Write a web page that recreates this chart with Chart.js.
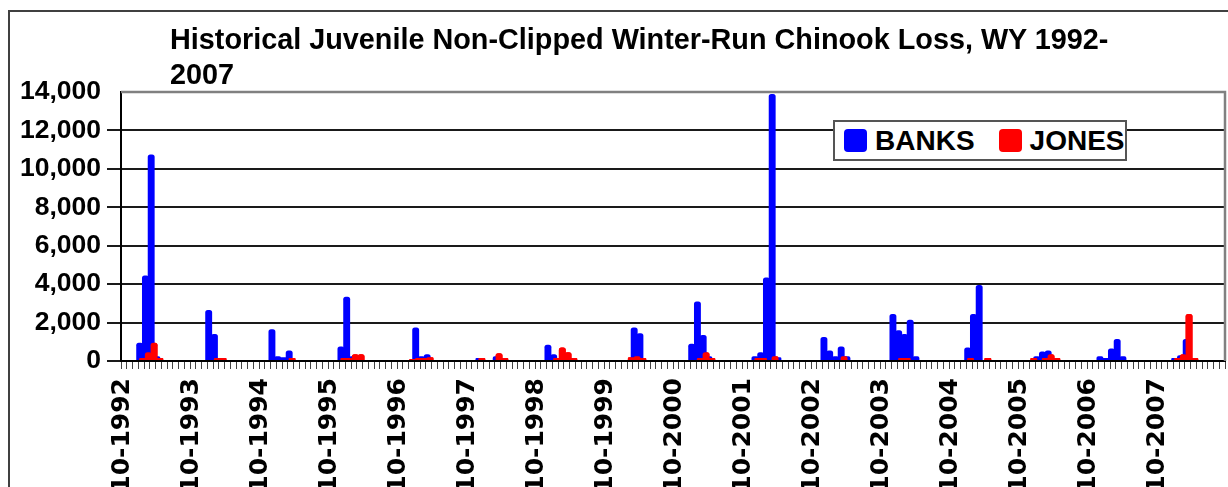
<!DOCTYPE html>
<html>
<head>
<meta charset="utf-8">
<script src="https://cdn.jsdelivr.net/npm/chart.js@4.4.1/dist/chart.umd.min.js"></script>
<style>
html,body{margin:0;padding:0;background:#fff;overflow:hidden;width:1228px;height:487px;}
#wrap{position:relative;width:1228px;height:487px;overflow:hidden;}
#frame{position:absolute;left:8px;top:10px;width:1300px;height:600px;border:2px solid #404040;box-sizing:border-box;}
#c{position:absolute;left:0;top:0;}
#title{position:absolute;left:170px;top:22px;font:bold 28.8px "Liberation Sans",Arial,sans-serif;line-height:35px;color:#000;white-space:nowrap;}
#legend{position:absolute;left:833px;top:120px;width:294px;height:41px;border:2px solid #555;background:#fff;box-sizing:border-box;display:flex;align-items:center;padding-left:9px;font:bold 28px "Liberation Sans",Arial,sans-serif;color:#000;}
#legend .item{display:flex;align-items:center;margin-right:24px;}
#legend .sw{width:23px;height:23px;border-radius:4px;margin-right:8px;}
</style>
</head>
<body>
<div id="wrap">
  <div id="frame"></div>
  <canvas id="c" width="1228" height="487"></canvas>
  <div id="title">Historical Juvenile Non-Clipped Winter-Run Chinook Loss, WY 1992-<br>2007</div>
  <div id="legend"></div>
</div>
<script>
// Tick labels shown on the category axis (one per water year)
const tickLabels = ['10-1992','10-1993','10-1994','10-1995','10-1996','10-1997','10-1998','10-1999',
                    '10-2000','10-2001','10-2002','10-2003','10-2004','10-2005','10-2006','10-2007'];

// Monthly categories, Oct 1992 .. Sep 2008
const months = [];
for (let y = 1992; y < 2008; y++) {
  for (let k = 0; k < 12; k++) {
    const m = (9 + k) % 12 + 1;
    months.push(m + '-' + (m >= 10 ? y : y + 1));
  }
}

// BANKS monthly loss (Oct..Sep per row)
const banks = [
  0,0,0,950,4450,10750,250,0,0,0,0,0,      // WY1993
  0,0,0,2650,1400,0,0,0,0,0,0,0,           // WY1994
  0,0,1650,250,200,550,0,0,0,0,0,0,        // WY1995
  0,0,750,3350,250,0,0,0,0,0,0,0,          // WY1996
  0,0,0,1750,250,350,0,0,0,0,0,0,          // WY1997
  0,0,150,0,0,250,0,0,0,0,0,0,             // WY1998
  0,0,850,350,0,0,0,0,0,0,0,0,             // WY1999
  0,0,0,0,0,1750,1450,0,0,0,0,0,           // WY2000
  0,0,0,900,3100,1350,250,0,0,0,0,0,       // WY2001
  0,0,250,450,4350,13900,200,0,0,0,0,0,    // WY2002
  0,0,1250,550,250,750,250,0,0,0,0,0,      // WY2003
  0,0,2450,1600,1400,2150,250,0,0,0,0,0,   // WY2004
  0,0,0,700,2450,3950,0,0,0,0,0,0,         // WY2005
  0,0,0,250,500,550,150,0,0,0,0,0,         // WY2006
  0,0,250,150,650,1150,250,0,0,0,0,0,      // WY2007
  0,0,0,150,300,1150,0,0,0,0,0,0           // WY2008
];

// JONES monthly loss (Oct..Sep per row)
const jones = [
  0,0,0,150,450,950,150,0,0,0,0,0,
  0,0,0,0,150,150,0,0,0,0,0,0,
  0,0,0,0,0,150,0,0,0,0,0,0,
  0,0,150,150,350,350,0,0,0,0,0,0,
  0,0,100,150,150,200,0,0,0,0,0,0,
  0,0,150,0,0,400,150,0,0,0,0,0,
  0,0,0,150,700,450,150,0,0,0,0,0,
  0,0,0,0,200,250,150,0,0,0,0,0,
  0,0,0,0,150,450,150,0,0,0,0,0,
  0,0,150,150,0,250,0,0,0,0,0,0,
  0,0,0,0,0,250,0,0,0,0,0,0,
  0,0,0,150,150,0,0,0,0,0,0,0,
  0,0,0,150,0,0,150,0,0,0,0,0,
  0,0,150,0,150,350,150,0,0,0,0,0,
  0,0,0,0,0,0,0,0,0,0,0,0,
  0,0,0,150,350,2450,150,0,0,0,0,0
];

const seriesNames = ['BANKS', 'JONES'];
const seriesColors = ['#0000FF', '#FF0000'];

const FONT = '"Liberation Sans", Arial, sans-serif';
Chart.defaults.font.family = FONT;
Chart.defaults.color = '#000';

// Draw JONES again so it sits above BANKS, as in the original
const redOnTop = {
  id: 'redOnTop',
  afterDatasetsDraw(chart) {
    const meta = chart.getDatasetMeta(1);
    if (!meta.hidden) { chart.ctx.save(); meta.controller.draw(); chart.ctx.restore(); }
  }
};
const plotFrame = {
  id: 'plotFrame',
  beforeDatasetsDraw(chart) {
    const {ctx, chartArea: a} = chart;
    ctx.save();
    ctx.strokeStyle = '#808080';
    ctx.lineWidth = 2.5;
    ctx.beginPath();
    ctx.moveTo(a.left, a.top);
    ctx.lineTo(a.right, a.top);
    ctx.lineTo(a.right, a.bottom);
    ctx.stroke();
    ctx.restore();
  }
};

const chart = new Chart(document.getElementById('c'), {
  type: 'bar',
  data: {
    labels: months,
    datasets: [
      { label: seriesNames[0], data: banks, backgroundColor: seriesColors[0], borderWidth: 0, borderRadius: 2.5 },
      { label: seriesNames[1], data: jones, backgroundColor: seriesColors[1], borderWidth: 0, borderRadius: 2.5 }
    ]
  },
  options: {
    responsive: false,
    animation: false,
    devicePixelRatio: 1,
    layout: { padding: { top: 92, left: 0, right: 3, bottom: 0 } },
    datasets: { bar: { barPercentage: 2.4, categoryPercentage: 1 } },
    plugins: { legend: { display: false }, title: { display: false }, tooltip: { enabled: false } },
    scales: {
      x: {
        afterFit(s) { s.height = 126; s.paddingLeft = 0; s.paddingRight = 0; },
        grid: { offset: true, drawOnChartArea: false, drawTicks: true, tickLength: 8, color: '#444', lineWidth: 1 },
        border: { color: '#000', width: 2 },
        ticks: {
          autoSkip: false, minRotation: 90, maxRotation: 90, padding: 9, labelOffset: -1,
          font: { family: '"DejaVu Sans", sans-serif', size: 25, weight: 'bold' },
          callback(v, i) { const l = months[i]; return tickLabels.includes(l) ? l : ''; }
        }
      },
      y: {
        min: 0, max: 14000,
        afterFit(s) { s.width = 121; },
        grid: {
          color: (c) => (c.tick && c.tick.value === 14000) ? 'rgba(0,0,0,0)' : '#1a1a1a',
          lineWidth: 2, tickLength: 14, drawTicks: true
        },
        border: { color: '#000', width: 2 },
        ticks: {
          stepSize: 2000, padding: 6,
          font: { size: 26.5, weight: 'bold' },
          callback: (v) => v.toLocaleString('en-US')
        }
      }
    }
  },
  plugins: [plotFrame, redOnTop]
});

// HTML legend built from the datasets
const lg = document.getElementById('legend');
chart.data.datasets.forEach(ds => {
  const it = document.createElement('div'); it.className = 'item';
  const sw = document.createElement('div'); sw.className = 'sw'; sw.style.background = ds.backgroundColor;
  const tx = document.createElement('span'); tx.textContent = ds.label;
  it.appendChild(sw); it.appendChild(tx); lg.appendChild(it);
});
</script>
</body>
</html>
